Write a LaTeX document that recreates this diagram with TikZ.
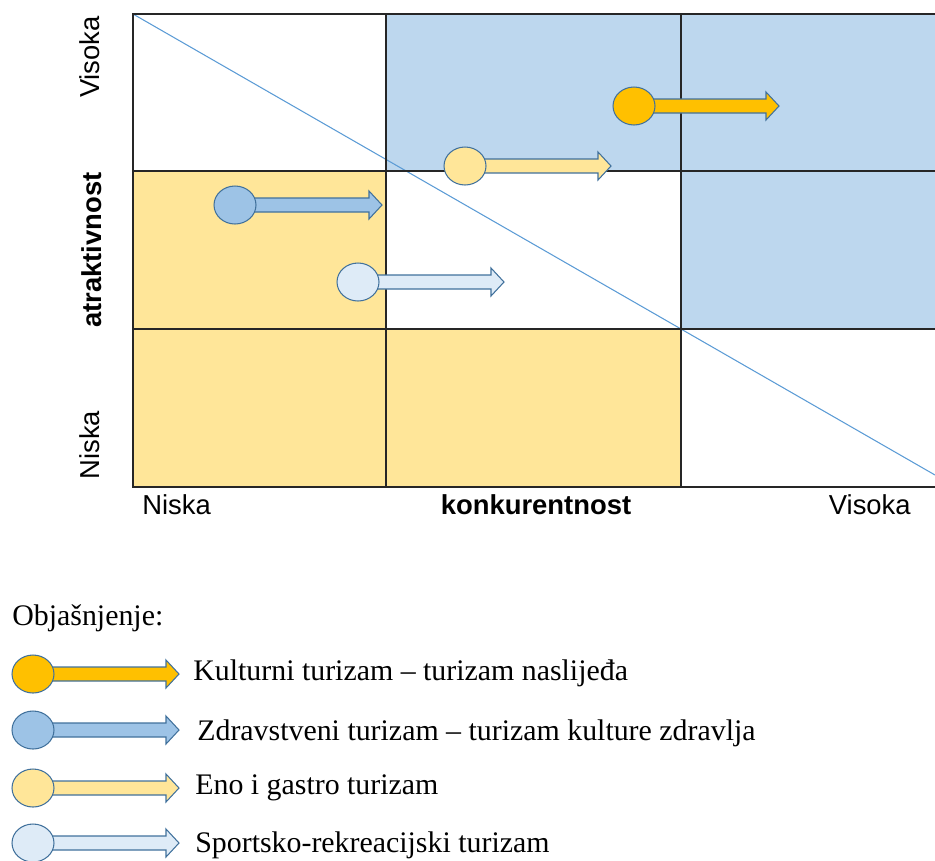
\documentclass[tikz,border=0pt]{standalone}
\usepackage{fontspec}
\setmainfont{Liberation Serif}
\setsansfont{Liberation Sans}
\usetikzlibrary{positioning}

\definecolor{cellblue}{HTML}{BDD7EE}
\definecolor{cellyellow}{HTML}{FFE699}
\definecolor{kultura}{HTML}{FFC000}
\definecolor{zdravlje}{HTML}{9DC3E6}
\definecolor{enogastro}{HTML}{FFE699}
\definecolor{sport}{HTML}{DEEBF7}
\definecolor{edgeblue}{HTML}{41719C}
\definecolor{diagblue}{HTML}{5B9BD5}

\tikzset{
    gridline/.style={line width=0.8pt, black!85},
    markline/.style={line width=0.6pt, draw=edgeblue},
    axislabel/.style={font=\sffamily\fontsize{15.6}{18}\selectfont, inner sep=0pt},
    axistitle/.style={font=\sffamily\bfseries\fontsize{15.6}{18}\selectfont, inner sep=0pt},
    legendlabel/.style={font=\fontsize{17}{20}\selectfont, anchor=west, inner sep=0pt}
}

% marker: circle at (#1,#2), arrow tip at x=#3, fill #4
\newcommand{\trend}[4]{%
    \draw[markline, fill=#4] (#1,#2-7) -- (#3-13,#2-7) -- (#3-13,#2-14) -- (#3,#2)
        -- (#3-13,#2+14) -- (#3-13,#2+7) -- (#1,#2+7) -- cycle;
    \draw[markline, fill=#4] (#1,#2) ellipse [x radius=0.42cm, y radius=0.38cm];
}

\begin{document}
\begin{tikzpicture}[x=0.02cm, y=-0.02cm]
    \useasboundingbox (0,0) rectangle (935,860);

    % Cells
    \fill[cellblue] (386,14) rectangle (935,171);
    \fill[cellblue] (681,171) rectangle (935,329);
    \fill[cellyellow] (133,171) rectangle (386,329);
    \fill[cellyellow] (133,329) rectangle (681,487);

    % Diagonal
    \draw[diagblue, line width=0.6pt] (133,14) -- (935,475);

    % Grid
    \draw[gridline] (935,14) -- (133,14) -- (133,487) -- (935,487);
    \draw[gridline] (133,171) -- (935,171);
    \draw[gridline] (133,329) -- (935,329);
    \draw[gridline] (386,14) -- (386,487);
    \draw[gridline] (681,14) -- (681,487);

    % Axis labels
    \node[axislabel, rotate=90] (yhigh) at (90,57) {Visoka};
    \node[axistitle, rotate=90] (ytitle) at (92,250) {atraktivnost};
    \node[axislabel, rotate=90] (ylow) at (90,445) {Niska};
    \node[axislabel, anchor=west] (xlow) at (142,505) {Niska};
    \node[axistitle] (xtitle) at (536,505) {konkurentnost};
    \node[axislabel, anchor=east] (xhigh) at (911,505) {Visoka};

    % Markers
    \trend{634}{106}{779}{kultura}
    \trend{465}{166}{611}{enogastro}
    \trend{235}{205}{382}{zdravlje}
    \trend{358}{282}{504}{sport}

    % Legend
    \node[legendlabel] (legtitle) at (12,618) {Objašnjenje:};
    \trend{33}{674}{179}{kultura}
    \trend{33}{730}{179}{zdravlje}
    \trend{33}{788}{179}{enogastro}
    \trend{33}{843}{179}{sport}
    \node[legendlabel] (leg1) at (193,673) {Kulturni turizam – turizam naslijeđa};
    \node[legendlabel] (leg2) at (197,733) {Zdravstveni turizam – turizam kulture zdravlja};
    \node[legendlabel] (leg3) at (195,788) {Eno i gastro turizam};
    \node[legendlabel] (leg4) at (195,845) {Sportsko-rekreacijski turizam};
\end{tikzpicture}
\end{document}
